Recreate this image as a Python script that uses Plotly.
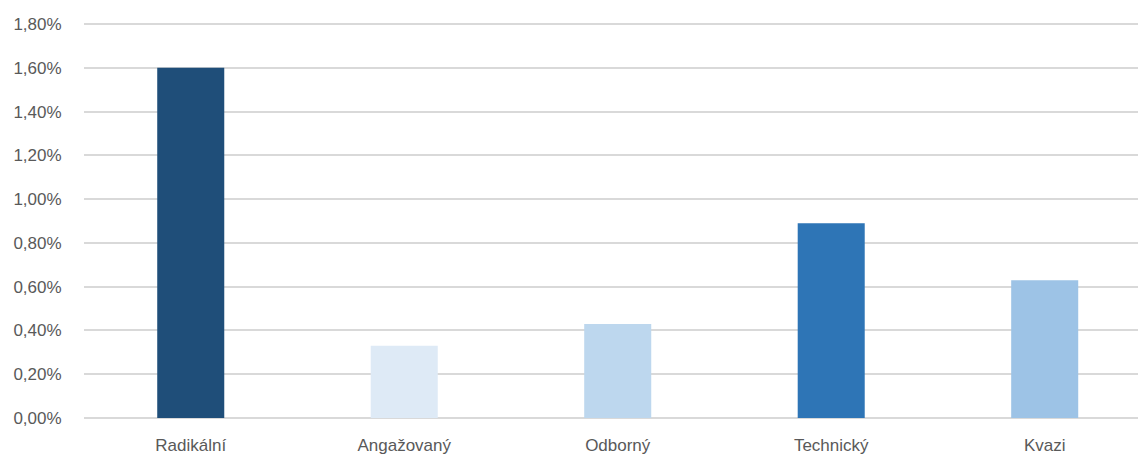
import plotly.graph_objects as go

categories = ["Radikální", "Angažovaný", "Odborný", "Technický", "Kvazi"]
values = [0.0160, 0.0033, 0.0043, 0.0089, 0.0063]
colors = ["#1f4e79", "#deeaf6", "#bdd7ee", "#2e75b6", "#9dc3e6"]

fig = go.Figure(go.Bar(
    x=categories, y=values, marker=dict(color=colors, line=dict(width=0)),
    width=0.314, hoverinfo="skip"))

font_family = "Liberation Sans, Arial, sans-serif"
fig.update_layout(
    width=1138, height=454,
    margin=dict(l=84, r=0, t=23, b=36, autoexpand=False),
    paper_bgcolor="white", plot_bgcolor="white",
    separators=",.",
    showlegend=False,
    font=dict(family=font_family, size=17, color="#595959"),
    xaxis=dict(range=[-0.5, 4.437], showgrid=False, showline=False, zeroline=False,
               automargin=False,
               ticks="outside", ticklen=12, tickcolor="rgba(0,0,0,0)",
               tickfont=dict(size=17, color="#595959")),
    yaxis=dict(range=[0, 0.01805], dtick=0.002, tickformat=".2%",
               automargin=False,
               showgrid=True, gridcolor="#d9d9d9", gridwidth=2,
               zeroline=True, zerolinecolor="#d9d9d9", zerolinewidth=2,
               showline=False, ticks="outside", ticklen=18, tickcolor="rgba(0,0,0,0)",
               tickfont=dict(size=17, color="#595959")),
)
fig.write_html("out.html", config={"displayModeBar": False},
               post_script="document.body.style.margin='0';")
